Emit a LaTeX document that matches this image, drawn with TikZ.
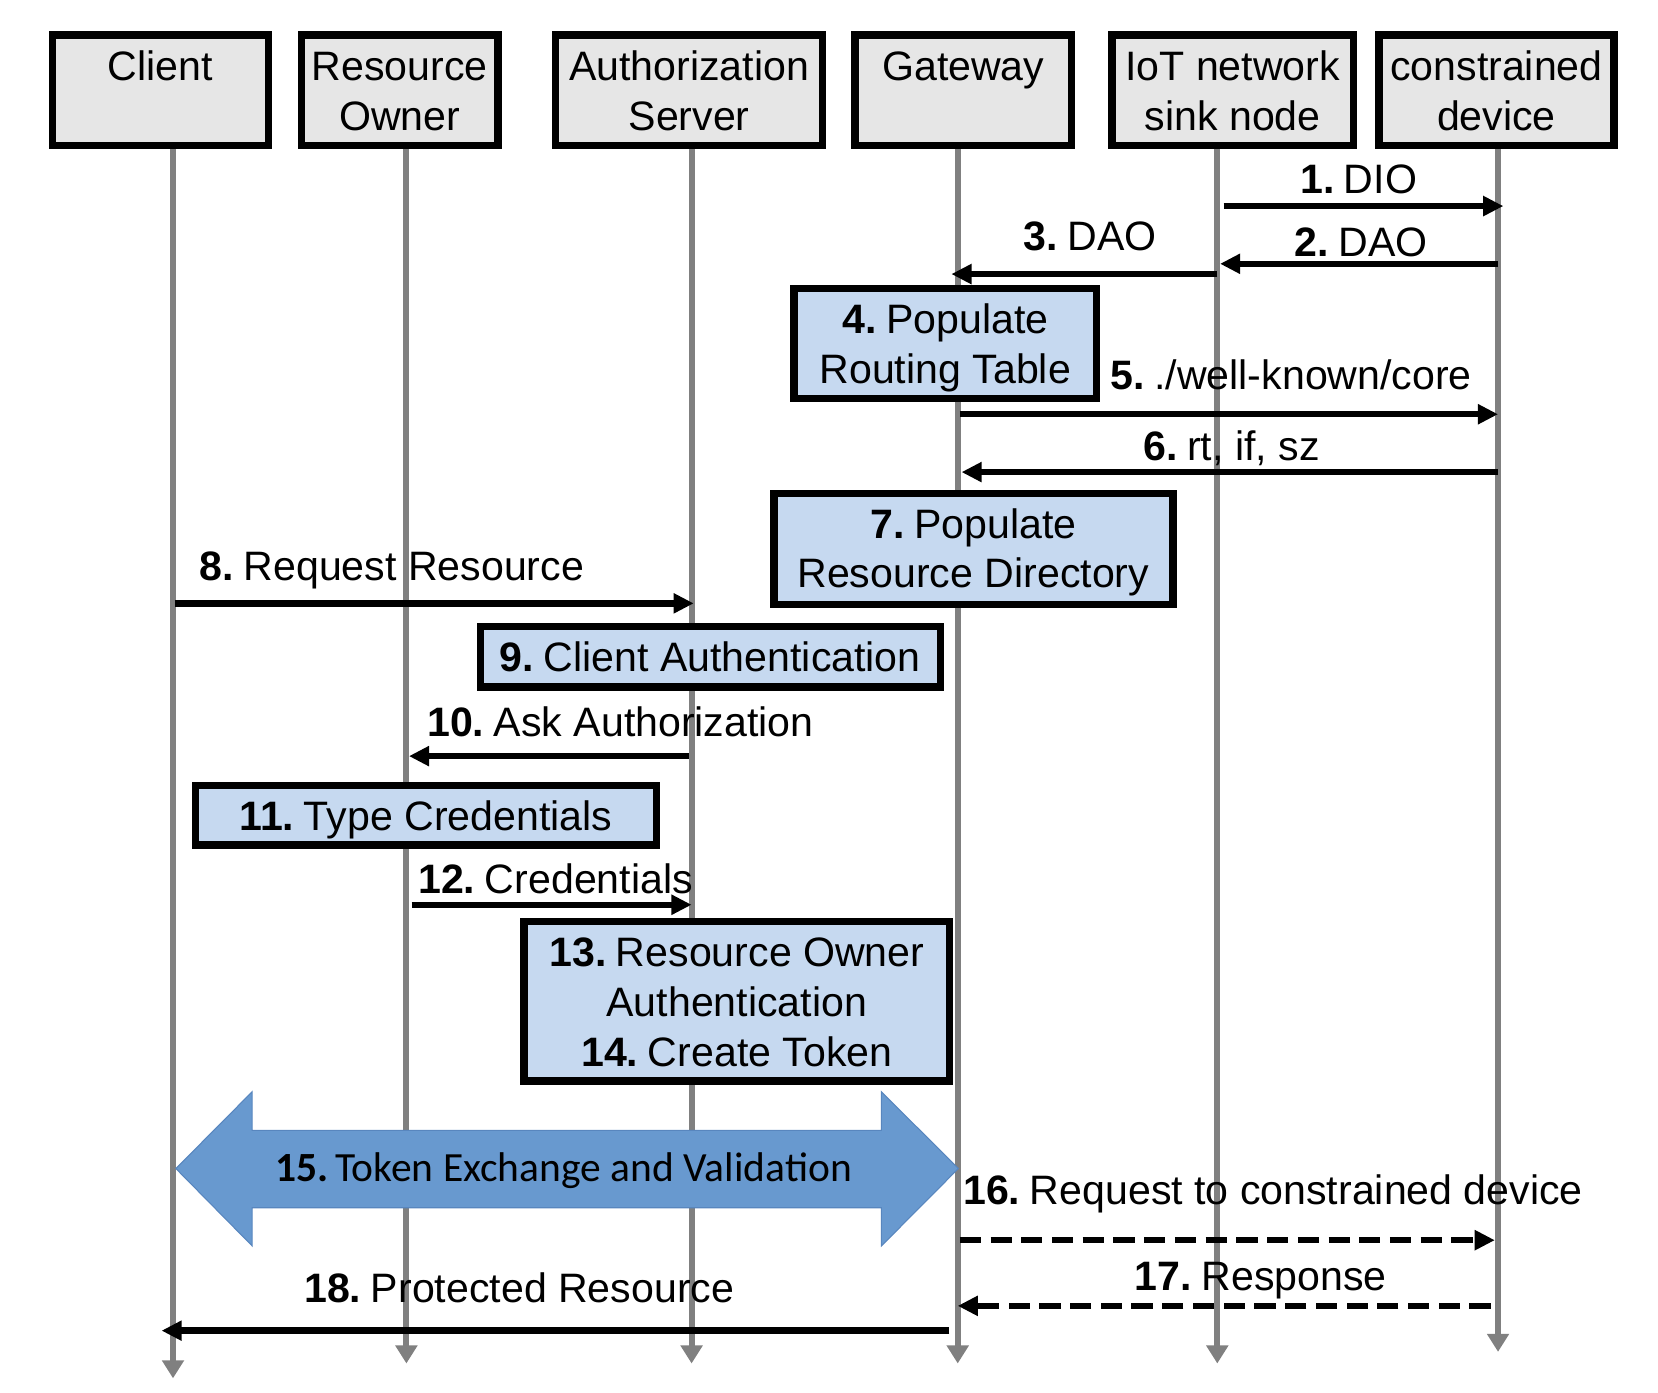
\documentclass[tikz,border=0pt]{standalone}
\usepackage{fontspec}
\setmainfont{Liberation Sans}
\newfontfamily\calfont{Carlito}
\usetikzlibrary{arrows.meta}
\definecolor{hdrgray}{RGB}{230,230,230}
\definecolor{boxblue}{RGB}{198,217,240}
\definecolor{lifegray}{RGB}{128,128,128}
\definecolor{bigblue}{RGB}{104,153,207}
\definecolor{bigedge}{RGB}{88,134,190}
\newcommand\stepnum[1]{\textbf{#1}\hspace{9pt}}
\tikzset{
  hdrbox/.style={draw=black, line width=7pt, fill=hdrgray, rectangle, inner sep=0pt},
  stepbox/.style={draw=black, line width=7pt, fill=boxblue, rectangle, inner sep=0pt},
  txt/.style={inner sep=0pt, anchor=base, font=\fontsize{38.8pt}{47pt}\selectfont},
  lbl/.style={inner sep=0pt, anchor=base west, font=\fontsize{38.8pt}{47pt}\selectfont},
  life/.style={draw=lifegray, line width=5.5pt, -{Triangle[length=17pt,width=20pt]}},
  msg/.style={draw=black, line width=6pt, -{Triangle[length=19pt,width=18pt]}},
  dmsg/.style={msg, dash pattern=on 20pt off 9pt},
}
\begin{document}
\begin{tikzpicture}[x=1pt,y=-1pt]
\useasboundingbox (0,0) rectangle (1565,1314);
% lifeline anchors
\coordinate (lcl) at (163.3,137.5);  \coordinate (lclb) at (163.3,1301);
\coordinate (lro) at (383.6,137.5);  \coordinate (lrob) at (383.6,1287);
\coordinate (las) at (652.8,137.5);  \coordinate (lasb) at (652.8,1287);
\coordinate (lgw) at (904,137.5);    \coordinate (lgwb) at (904,1287);
\coordinate (liot) at (1149,137.5);  \coordinate (liotb) at (1149,1287);
\coordinate (lcd) at (1414,137.5);   \coordinate (lcdb) at (1414,1276);
\draw[life] (lcl) -- (lclb);
\draw[life] (lro) -- (lrob);
\draw[life] (las) -- (lasb);
\draw[life] (lgw) -- (lgwb);
\draw[life] (liot) -- (liotb);
\draw[life] (lcd) -- (lcdb);
% header boxes
\node[hdrbox, minimum width=204pt, minimum height=104.5pt] (client) at (151.5,85.25) {};
\node[hdrbox, minimum width=185.5pt, minimum height=104.5pt] (ro) at (377.25,85.25) {};
\node[hdrbox, minimum width=252pt, minimum height=104.5pt] (as) at (650.5,85.25) {};
\node[hdrbox, minimum width=204.5pt, minimum height=104.5pt] (gw) at (909.25,85.25) {};
\node[hdrbox, minimum width=228pt, minimum height=104.5pt] (iot) at (1163.5,85.25) {};
\node[hdrbox, minimum width=222pt, minimum height=104.5pt] (cd) at (1412.5,85.25) {};
\node[txt] (tcl) at (151.5,76) {Client};
\node[txt] (tro1) at (377.25,76) {Resource};
\node[txt] (tro2) at (377.25,123) {Owner};
\node[txt] (tas1) at (650.5,76) {Authorization};
\node[txt] (tas2) at (650.5,123) {Server};
\node[txt] (tgw) at (909.25,76) {Gateway};
\node[txt] (tiot1) at (1163.5,76) {IoT network};
\node[txt] (tiot2) at (1163.5,123) {sink node};
\node[txt] (tcd1) at (1412.5,76) {constrained};
\node[txt] (tcd2) at (1412.5,123) {device};
% messages 1-3
\draw[msg, shorten <=6pt, shorten >=-5pt] (liot |- 0,194.5) -- (lcd |- 0,194.5);
\node[lbl] (m1) at (1227,183) {\stepnum{1.}DIO};
\draw[msg, shorten >=2.6pt] (lcd |- 0,249) -- (liot |- 0,249);
\node[lbl] (m2) at (1222,241.7) {\stepnum{2.}DAO};
\draw[msg, shorten >=-6pt] (liot |- 0,258.7) -- (lgw |- 0,258.7);
\node[lbl] (m3) at (966,236.6) {\stepnum{3.}DAO};
% box 4
\node[stepbox, minimum width=285.5pt, minimum height=103.5pt] (b4) at (892.25,324.25) {};
\node[txt] (b4a) at (892.25,314.5) {\stepnum{4.}Populate};
\node[txt] (b4b) at (892.25,361.7) {Routing Table};
% messages 5-6
\draw[msg, shorten <=2pt] (lgw |- 0,391) -- (lcd |- 0,391);
\node[lbl] (m5) at (1048,367.5) {\stepnum{5.}./well-known/core};
\draw[msg, shorten >=3.6pt] (lcd |- 0,445.6) -- (lgw |- 0,445.6);
\node[lbl] (m6) at (1079,435) {\stepnum{6.}rt, if, sz};
% box 7
\node[stepbox, minimum width=376.5pt, minimum height=104.5pt] (b7) at (918.75,518.25) {};
\node[txt] (b7a) at (918.75,508) {\stepnum{7.}Populate};
\node[txt] (b7b) at (918.75,555) {Resource Directory};
% message 8
\draw[msg, shorten <=1.7pt, shorten >=-2pt] (lcl |- 0,569.5) -- (las |- 0,569.5);
\node[lbl] (m8) at (188.5,547.5) {\stepnum{8.}Request Resource};
% box 9
\node[stepbox, minimum width=434pt, minimum height=57pt] (b9) at (670.5,620) {};
\node[txt] (b9a) at (670.5,634) {\stepnum{9.}Client Authentication};
% message 10
\draw[msg, shorten <=2.8pt, shorten >=2.4pt] (las |- 0,713.7) -- (lro |- 0,713.7);
\node[lbl] (m10) at (403,695.6) {\stepnum{10.}Ask Authorization};
% box 11
\node[stepbox, minimum width=435pt, minimum height=56pt] (b11) at (402,769.5) {};
\node[txt] (b11a) at (402,783.5) {\stepnum{11.}Type Credentials};
% message 12
\draw[msg, shorten <=5pt] (lro |- 0,854) -- (las |- 0,854);
\node[lbl] (m12) at (394.6,843) {\stepnum{12.}Credentials};
% box 13/14
\node[stepbox, minimum width=402pt, minimum height=150.5pt] (b13) at (695.5,945.25) {};
\node[txt] (b13a) at (695.5,912.5) {\stepnum{13.}Resource Owner};
\node[txt] (b13b) at (695.5,959.5) {Authentication};
\node[txt] (b13c) at (695.5,1007) {\stepnum{14.}Create Token};
% big double arrow 15
\draw[fill=bigblue, draw=bigedge, line width=1pt]
  (166,1103) -- (238,1030.5) -- (238,1067) -- (832,1067) -- (832,1030.5)
  -- (904.6,1103) -- (832,1176) -- (832,1140) -- (238,1140) -- (238,1176) -- cycle;
\node[inner sep=0pt, anchor=base west, font=\calfont\fontsize{39.2pt}{46pt}\selectfont] (m15) at (260,1115.5) {\textbf{15.}\hspace{6pt}Token Exchange and Validation};
% messages 16-18
\draw[dmsg, shorten <=2pt, shorten >=3pt] (lgw |- 0,1170.6) -- (lcd |- 0,1170.6);
\node[lbl] (m16) at (909,1136.6) {\stepnum{16.}Request to constrained device};
\draw[dmsg, shorten <=7pt] (lcd |- 0,1232.6) -- (lgw |- 0,1232.6);
\node[lbl] (m17) at (1071,1218.5) {\stepnum{17.}Response};
\draw[msg, shorten <=8pt, shorten >=-10.8pt] (lgw |- 0,1256) -- (lcl |- 0,1256);
\node[lbl] (m18) at (287,1229.7) {\stepnum{18.}Protected Resource};
\end{tikzpicture}
\end{document}
